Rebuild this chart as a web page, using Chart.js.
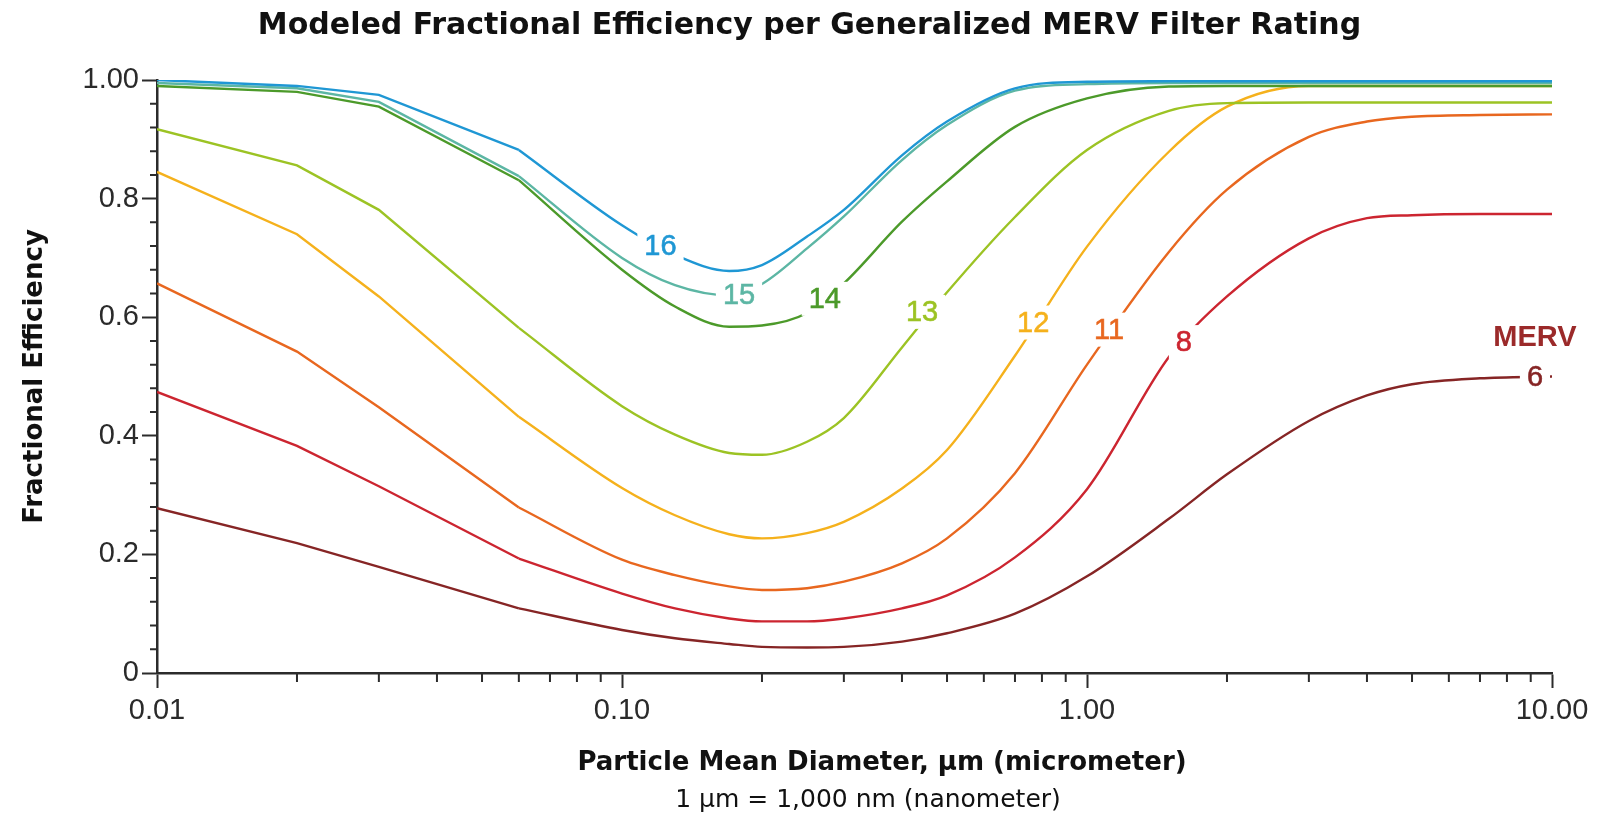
<!DOCTYPE html>
<html lang="en">
<head>
    <meta charset="UTF-8">
    <title>Modeled Fractional Efficiency per Generalized MERV Filter Rating</title>
    <script src="https://cdn.jsdelivr.net/npm/chart.js"></script>
    <style>
        body { margin: 0; background: #fff; }
        canvas { display: block; }
    </style>
</head>
<body>
    <canvas id="mervChart" width="1619" height="817"></canvas>

    <script>
        // particle mean diameter, µm (log axis)
        const particleSizes = [0.01, 0.02, 0.03, 0.06, 0.1, 0.13, 0.17, 0.2, 0.25, 0.3, 0.4, 0.5, 0.7, 1, 1.5, 2, 3, 4, 5, 7, 10];

        // fractional efficiency per MERV rating
        const merv16 = [1.000, 0.990, 0.975, 0.882, 0.755, 0.705, 0.678, 0.688, 0.736, 0.781, 0.873, 0.930, 0.986, 0.997, 0.998, 0.998, 0.998, 0.998, 0.998, 0.998, 0.998];
        const merv15 = [0.995, 0.986, 0.963, 0.838, 0.700, 0.654, 0.637, 0.656, 0.716, 0.770, 0.865, 0.924, 0.982, 0.993, 0.995, 0.995, 0.995, 0.995, 0.995, 0.995, 0.995];
        const merv14 = [0.990, 0.980, 0.955, 0.831, 0.680, 0.618, 0.584, 0.586, 0.607, 0.657, 0.761, 0.829, 0.921, 0.969, 0.989, 0.990, 0.990, 0.990, 0.990, 0.990, 0.990];
        const merv13 = [0.917, 0.856, 0.781, 0.582, 0.450, 0.402, 0.371, 0.368, 0.390, 0.430, 0.549, 0.642, 0.769, 0.882, 0.948, 0.961, 0.962, 0.962, 0.962, 0.962, 0.962];
        const merv12 = [0.845, 0.740, 0.635, 0.432, 0.312, 0.266, 0.234, 0.227, 0.236, 0.255, 0.311, 0.376, 0.535, 0.719, 0.879, 0.955, 0.990, 0.990, 0.990, 0.990, 0.990];
        const merv11 = [0.657, 0.542, 0.448, 0.279, 0.191, 0.165, 0.146, 0.140, 0.143, 0.154, 0.185, 0.227, 0.337, 0.520, 0.710, 0.815, 0.904, 0.930, 0.938, 0.941, 0.942];
        const merv8  = [0.474, 0.383, 0.315, 0.193, 0.134, 0.109, 0.092, 0.087, 0.087, 0.092, 0.109, 0.131, 0.195, 0.310, 0.533, 0.635, 0.733, 0.767, 0.772, 0.774, 0.774];
        const merv6  = [0.278, 0.219, 0.179, 0.109, 0.0725, 0.0585, 0.049, 0.044, 0.043, 0.044, 0.053, 0.067, 0.100, 0.163, 0.260, 0.335, 0.425, 0.468, 0.487, 0.497, 0.500];

        const ratings = ['16', '15', '14', '13', '12', '11', '8', '6'];
        const ratingSeries = [merv16, merv15, merv14, merv13, merv12, merv11, merv8, merv6];
        const ratingColors = ['#1f97d4', '#5cb6a4', '#4c9a2a', '#9cc324', '#f5b11c', '#e8671f', '#cc2530', '#862525'];

        // where each inline rating label sits (data units)
        const labelX = [0.121, 0.1785, 0.273, 0.442, 0.766, 1.115, 1.616, 9.19];
        const labelY = [0.720, 0.637, 0.631, 0.609, 0.591, 0.579, 0.558, 0.499];

        // axis ticks
        const xTickValues = [0.01, 0.1, 1, 10];
        const xTickLabels = ['0.01', '0.10', '1.00', '10.00'];
        const yTickLabels = ['0', '0.2', '0.4', '0.6', '0.8', '1.00'];

        const axisColor = '#2b2b2b';
        const kneeIndex = 3; // the measured points up to 0.06 µm are joined by straight segments

        const datasets = [];
        ratings.forEach((r, i) => {
            const pts = particleSizes.map((d, j) => ({ x: d, y: ratingSeries[i][j] }));
            const common = { borderColor: ratingColors[i], borderWidth: 2.4, pointRadius: 0, fill: false };
            // smooth part first so rating order keeps 16 on top
            datasets.push({ ...common, label: 'MERV ' + r, data: pts.slice(kneeIndex), cubicInterpolationMode: 'monotone' });
            datasets.push({ ...common, label: 'MERV ' + r + ' (fine)', data: pts.slice(0, kneeIndex + 1), tension: 0 });
        });

        // rating labels on the curves, minor ticks and the two-line x title
        const extrasPlugin = {
            id: 'extras',
            afterDatasetsDraw(chart) {
                const { ctx, scales: { x, y } } = chart;
                ctx.save();
                ctx.textAlign = 'center';
                ctx.textBaseline = 'middle';
                ctx.font = '29px "Liberation Sans", Arial, sans-serif';
                ratings.forEach((r, i) => {
                    const px = x.getPixelForValue(labelX[i]);
                    const py = y.getPixelForValue(labelY[i]);
                    const w = ctx.measureText(r).width;
                    ctx.fillStyle = '#fff';
                    ctx.fillRect(px - w / 2 - 7, py - 17, w + 14, 34);
                    ctx.fillStyle = ratingColors[i];
                    ctx.fillText(r, px, py + 1);
                    // a light outline thickens the digits a little
                    ctx.strokeStyle = ratingColors[i];
                    ctx.lineWidth = 0.6;
                    ctx.strokeText(r, px, py + 1);
                });
                ctx.font = 'bold 29px "Liberation Sans", Arial, sans-serif';
                ctx.fillStyle = '#9b2a2a';
                ctx.fillText('MERV', x.getPixelForValue(9.19), y.getPixelForValue(0.565));
                ctx.restore();
            },
            afterDraw(chart) {
                const { ctx, scales: { x, y } } = chart;
                ctx.save();
                ctx.strokeStyle = axisColor;
                ctx.lineWidth = 2;
                ctx.beginPath();
                for (let k = 1; k < 25; k++) {
                    if (k % 5 === 0) continue;
                    const py = y.getPixelForValue(k * 0.04);
                    ctx.moveTo(x.left - 7, py);
                    ctx.lineTo(x.left, py);
                }
                [0.01, 0.1, 1].forEach(dec => {
                    for (let m = 2; m <= 9; m++) {
                        const px = x.getPixelForValue(m * dec);
                        ctx.moveTo(px, y.bottom);
                        ctx.lineTo(px, y.bottom + 9);
                    }
                });
                ctx.stroke();

                ctx.fillStyle = '#111';
                ctx.textAlign = 'center';
                ctx.textBaseline = 'middle';
                ctx.font = 'bold 26px "DejaVu Sans", sans-serif';
                ctx.fillText('Particle Mean Diameter, µm (micrometer)', 882, 763);
                ctx.font = '25px "DejaVu Sans", sans-serif';
                ctx.fillText('1 µm = 1,000 nm (nanometer)', 868, 800);
                ctx.restore();
            }
        };

        new Chart(document.getElementById('mervChart'), {
            type: 'line',
            data: { datasets },
            options: {
                responsive: false,
                animation: false,
                devicePixelRatio: 1,
                layout: { padding: 0 },
                plugins: {
                    legend: { display: false },
                    tooltip: { enabled: false },
                    title: {
                        display: true,
                        text: 'Modeled Fractional Efficiency per Generalized MERV Filter Rating',
                        color: '#111',
                        font: { family: 'DejaVu Sans', size: 30, weight: 'bold', lineHeight: 1.2 },
                        padding: { top: 8, bottom: 36 }
                    }
                },
                scales: {
                    x: {
                        type: 'logarithmic',
                        min: 0.01,
                        max: 10,
                        afterBuildTicks: (scale) => {
                            scale.ticks = xTickValues.map(v => ({ value: v, major: true }));
                        },
                        afterFit: (scale) => { scale.height = 144; },
                        grid: { drawOnChartArea: false, tickLength: 15, tickWidth: 2, tickColor: axisColor },
                        border: { color: axisColor, width: 2.5 },
                        ticks: {
                            autoSkip: false,
                            maxRotation: 0,
                            padding: 6,
                            color: '#2a2a2a',
                            font: { family: 'Liberation Sans', size: 29 },
                            callback: (value, index) => xTickLabels[index]
                        }
                    },
                    y: {
                        min: 0,
                        max: 1,
                        afterFit: (scale) => { scale.width = 157; },
                        grid: { drawOnChartArea: false, tickLength: 15, tickWidth: 2, tickColor: axisColor },
                        border: { color: axisColor, width: 2.5 },
                        ticks: {
                            stepSize: 0.2,
                            padding: 3,
                            color: '#2a2a2a',
                            font: { family: 'Liberation Sans', size: 29 },
                            callback: (value, index) => yTickLabels[index]
                        },
                        title: {
                            display: true,
                            text: 'Fractional Efficiency',
                            color: '#111',
                            font: { family: 'DejaVu Sans', size: 26, weight: 'bold', lineHeight: 1.2 },
                            padding: { top: 20, bottom: 0 }
                        }
                    },
                    // empty margin on the right so the title stays centred on the page
                    yRight: {
                        position: 'right',
                        grid: { display: false },
                        border: { display: false },
                        ticks: { display: false },
                        afterFit: (scale) => { scale.width = 67; }
                    }
                }
            },
            plugins: [extrasPlugin]
        });
    </script>
</body>
</html>
